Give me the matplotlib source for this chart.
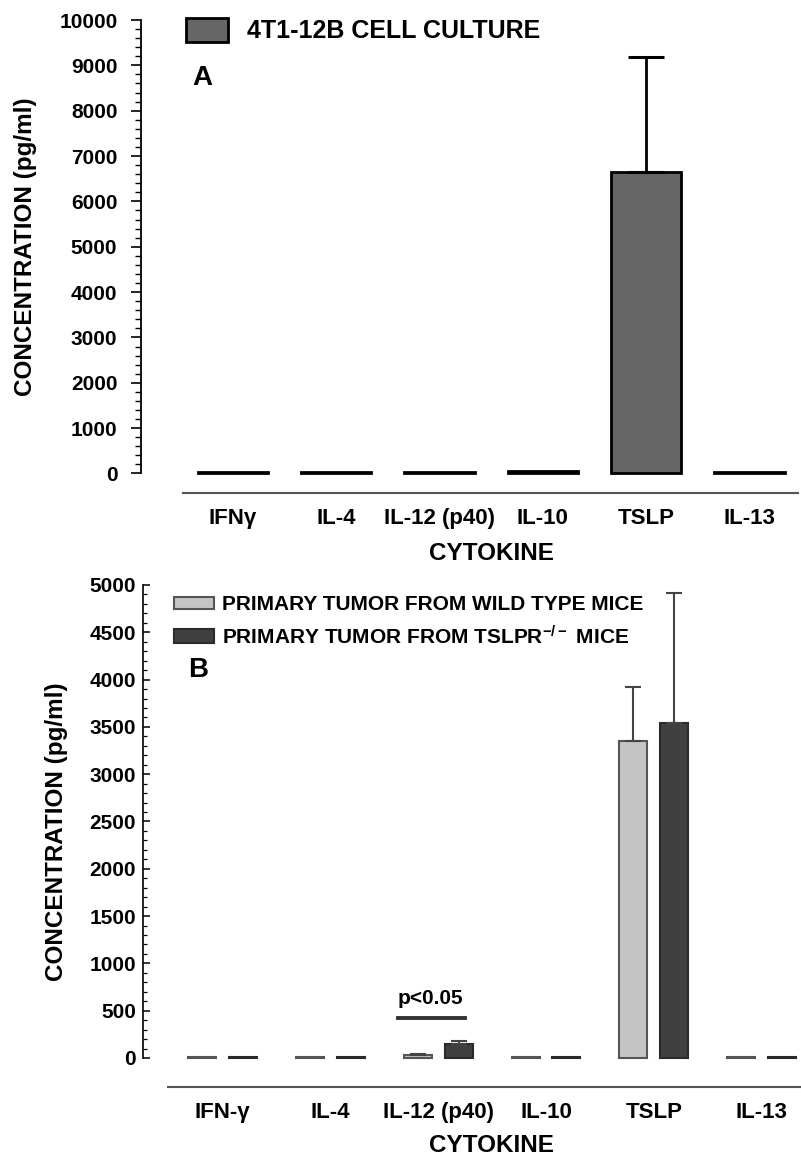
import numpy as np
import matplotlib
matplotlib.use("Agg")
import matplotlib.pyplot as plt
from matplotlib.patches import Rectangle

plt.rcParams['font.family'] = ['Liberation Sans', 'DejaVu Sans']
plt.rcParams['font.weight'] = 'bold'
plt.rcParams['mathtext.fontset'] = 'custom'
plt.rcParams['mathtext.rm'] = 'Liberation Sans:bold'
plt.rcParams['mathtext.default'] = 'rm'

# ---- data ----
cytokines_a = ["IFNγ", "IL-4", "IL-12 (p40)", "IL-10", "TSLP", "IL-13"]
conc_a = [30, 30, 30, 55, 6650, 30]
err_a = [0, 0, 0, 0, 2530, 0]

cytokines_b = ["IFN-γ", "IL-4", "IL-12 (p40)", "IL-10", "TSLP", "IL-13"]
wt_b = [5, 5, 30, 5, 3350, 5]
wt_err = [0, 0, 15, 0, 570, 0]
ko_b = [5, 5, 145, 5, 3540, 5]
ko_err = [0, 0, 30, 0, 1375, 0]

W, H = 801, 1155
fig = plt.figure(figsize=(W / 100, H / 100), dpi=100)


def px(x, y):
    return x / W, 1 - y / H


def axes_px(left, top, right, bottom):
    return fig.add_axes([left / W, 1 - bottom / H, (right - left) / W, (bottom - top) / H])


# ---------- Panel A ----------
ax = axes_px(141, 20, 798, 493)
xa = np.arange(len(cytokines_a))
ax.bar(xa, conc_a, width=0.68, color="#666666", edgecolor="black", linewidth=2)
ea = np.array(err_a)
m = ea > 0
ax.errorbar(xa[m], np.array(conc_a)[m], yerr=[np.zeros(m.sum()), ea[m]], fmt="none",
            ecolor="black", elinewidth=2, capsize=13, capthick=2.2)
ax.set_xlim(-0.89, 5.47)
ax.set_ylim(-430, 10000)
ax.set_yticks(np.arange(0, 10001, 1000))
ax.set_yticks(np.arange(0, 10001, 200), minor=True)
for s in ("top", "right"):
    ax.spines[s].set_visible(False)
ax.spines["left"].set_bounds(0, 10000)
ax.spines["left"].set_linewidth(1.3)
ax.spines["bottom"].set_bounds(-0.48, 5.47)
ax.spines["bottom"].set_color("#555555")
ax.spines["bottom"].set_linewidth(1.5)
ax.set_xticks(xa)
ax.set_xticklabels(cytokines_a, fontsize=16)
ax.tick_params(axis="x", length=0, pad=11)
ax.tick_params(axis="y", which="major", direction="out", length=7, width=1.2,
               labelsize=15, pad=10)
ax.tick_params(axis="y", which="minor", direction="out", length=4, width=1)
ax.patch.set_alpha(0)

fig.add_artist(Rectangle(px(186, 42), 42 / W, 24 / H, transform=fig.transFigure,
                         facecolor="#666666", edgecolor="black", linewidth=2))
fig.text(*px(247, 31), "4T1-12B CELL CULTURE", fontsize=18, va="center", ha="left")
fig.text(*px(202, 78), "A", fontsize=20, va="center", ha="center")
fig.text(*px(491, 553), "CYTOKINE", fontsize=17.5, va="center", ha="center")
fig.text(*px(26, 247), "CONCENTRATION (pg/ml)", fontsize=17.5, va="center",
         ha="center", rotation=90)

# ---------- Panel B ----------
bx = axes_px(143, 585, 800, 1087)
xb = np.arange(len(cytokines_b))
off, bw = 0.19, 0.26
bx.bar(xb - off, wt_b, width=bw, color="#c4c4c4", edgecolor="#555555", linewidth=1.5)
bx.bar(xb + off, ko_b, width=bw, color="#404040", edgecolor="#2a2a2a", linewidth=1.5)
for xs, vals, errs in ((xb - off, wt_b, wt_err), (xb + off, ko_b, ko_err)):
    e = np.array(errs)
    m = e > 0
    bx.errorbar(xs[m], np.array(vals)[m], yerr=[np.zeros(m.sum()), e[m]], fmt="none",
                ecolor="#444444", elinewidth=1.5, capsize=5.5, capthick=1.5)
bx.set_xlim(-0.74, 5.357)
bx.set_ylim(-307, 5000)
bx.set_yticks(np.arange(0, 5001, 500))
bx.set_yticks(np.arange(0, 5001, 100), minor=True)
for s in ("top", "right"):
    bx.spines[s].set_visible(False)
bx.spines["left"].set_bounds(0, 5000)
bx.spines["left"].set_linewidth(1.2)
bx.spines["bottom"].set_bounds(-0.51, 5.357)
bx.spines["bottom"].set_color("#555555")
bx.spines["bottom"].set_linewidth(1.5)
bx.set_xticks(xb)
bx.set_xticklabels(cytokines_b, fontsize=16)
bx.tick_params(axis="x", length=0, pad=11)
bx.tick_params(axis="y", which="major", direction="in", length=5, width=1.1,
               labelsize=15, pad=5)
bx.tick_params(axis="y", which="minor", direction="in", length=3, width=0.9)
bx.patch.set_alpha(0)

# significance marker on IL-12 (p40)
i12 = cytokines_b.index("IL-12 (p40)")
bx.plot([i12 - 0.376, i12 + 0.246], [425, 425], color="#333333", linewidth=2.8)
bx.text(i12 - 0.07, 625, "p<0.05", fontsize=15, ha="center", va="center")

fig.add_artist(Rectangle(px(174, 609), 40 / W, 12 / H, transform=fig.transFigure,
                         facecolor="#c4c4c4", edgecolor="#555555", linewidth=1.5))
fig.add_artist(Rectangle(px(174, 643), 40 / W, 14 / H, transform=fig.transFigure,
                         facecolor="#404040", edgecolor="#2a2a2a", linewidth=1.5))
fig.text(*px(222, 604), "PRIMARY TUMOR FROM WILD TYPE MICE", fontsize=15,
         va="center", ha="left")
fig.text(*px(222, 637), "PRIMARY TUMOR FROM TSLPR$^{-/-}$ MICE", fontsize=15,
         va="center", ha="left")
fig.text(*px(198, 670), "B", fontsize=20, va="center", ha="center")
fig.text(*px(492, 1145), "CYTOKINE", fontsize=17.5, va="center", ha="center")
fig.text(*px(56, 832), "CONCENTRATION (pg/ml)", fontsize=17.5, va="center",
         ha="center", rotation=90)

fig.savefig("out.png", dpi=100)
